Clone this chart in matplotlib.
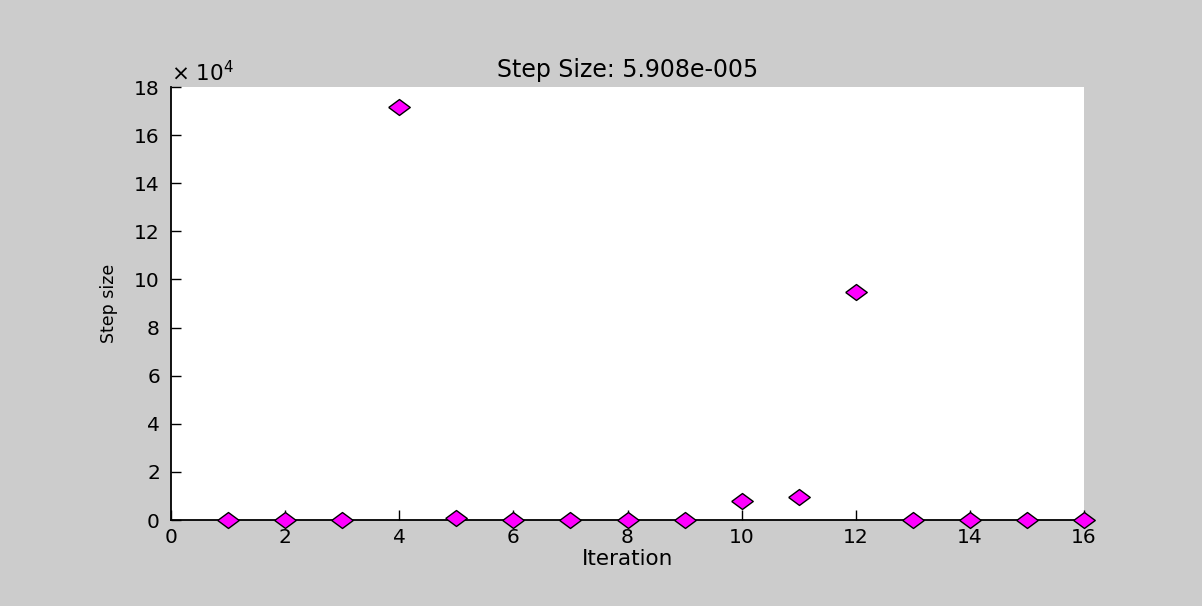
import matplotlib
matplotlib.use("Agg")
import matplotlib.pyplot as plt
from matplotlib.ticker import FuncFormatter

plt.rcParams['font.family'] = ['DejaVu Sans']

iterations = [1, 2, 3, 4, 5, 6, 7, 8, 9, 10, 11, 12, 13, 14, 15, 16]
step_sizes = [50, 30, 60, 171700, 700, 20, 40, 20, 60, 7700, 9500, 94900, 60, 20, 40, 20]
x_ticks = [0, 2, 4, 6, 8, 10, 12, 14, 16]
y_ticks = [0, 20000, 40000, 60000, 80000, 100000, 120000, 140000, 160000, 180000]
title = "Step Size: 5.908e-005"
x_label = "Iteration"
y_label = "Step size"

fig = plt.figure(figsize=(12.02, 6.06), dpi=100, facecolor="#cccccc")
ax = fig.add_axes([0.1423, 0.1419, 0.9018 - 0.1423, 0.8564 - 0.1419])
ax.set_facecolor("white")

wide_diamond = [(-1, 0), (0, 0.74), (1, 0), (0, -0.74), (-1, 0)]
ax.plot(iterations, step_sizes, linestyle="none", marker=wide_diamond, markersize=15.5,
        markerfacecolor="#ff00ff", markeredgecolor="black", markeredgewidth=1,
        clip_on=False, zorder=5)

ax.set_xlim(0, 16)
ax.set_ylim(0, 180000)
ax.set_xticks(x_ticks)
ax.set_yticks(y_ticks)
ax.yaxis.set_major_formatter(FuncFormatter(lambda v, p: f"{v/1e4:g}"))

for s in ("top", "right"):
    ax.spines[s].set_visible(False)
for s in ("left", "bottom"):
    ax.spines[s].set_linewidth(1.3)
    ax.spines[s].set_color("black")

ax.tick_params(direction="in", length=7, width=1, labelsize=14.5, colors="black")
ax.tick_params(axis="x", pad=5.5)
ax.tick_params(axis="y", pad=8)

ax.set_title(title, fontsize=17, pad=7)
ax.set_xlabel(x_label, fontsize=15.5, labelpad=2)
ax.set_ylabel(y_label, fontsize=12.5, labelpad=12)

ax.text(0.0, 1.005, r"$\times$ 10$^{4}$", transform=ax.transAxes, fontsize=15.5,
        ha="left", va="bottom")

fig.savefig("out.png", dpi=100, facecolor=fig.get_facecolor())
